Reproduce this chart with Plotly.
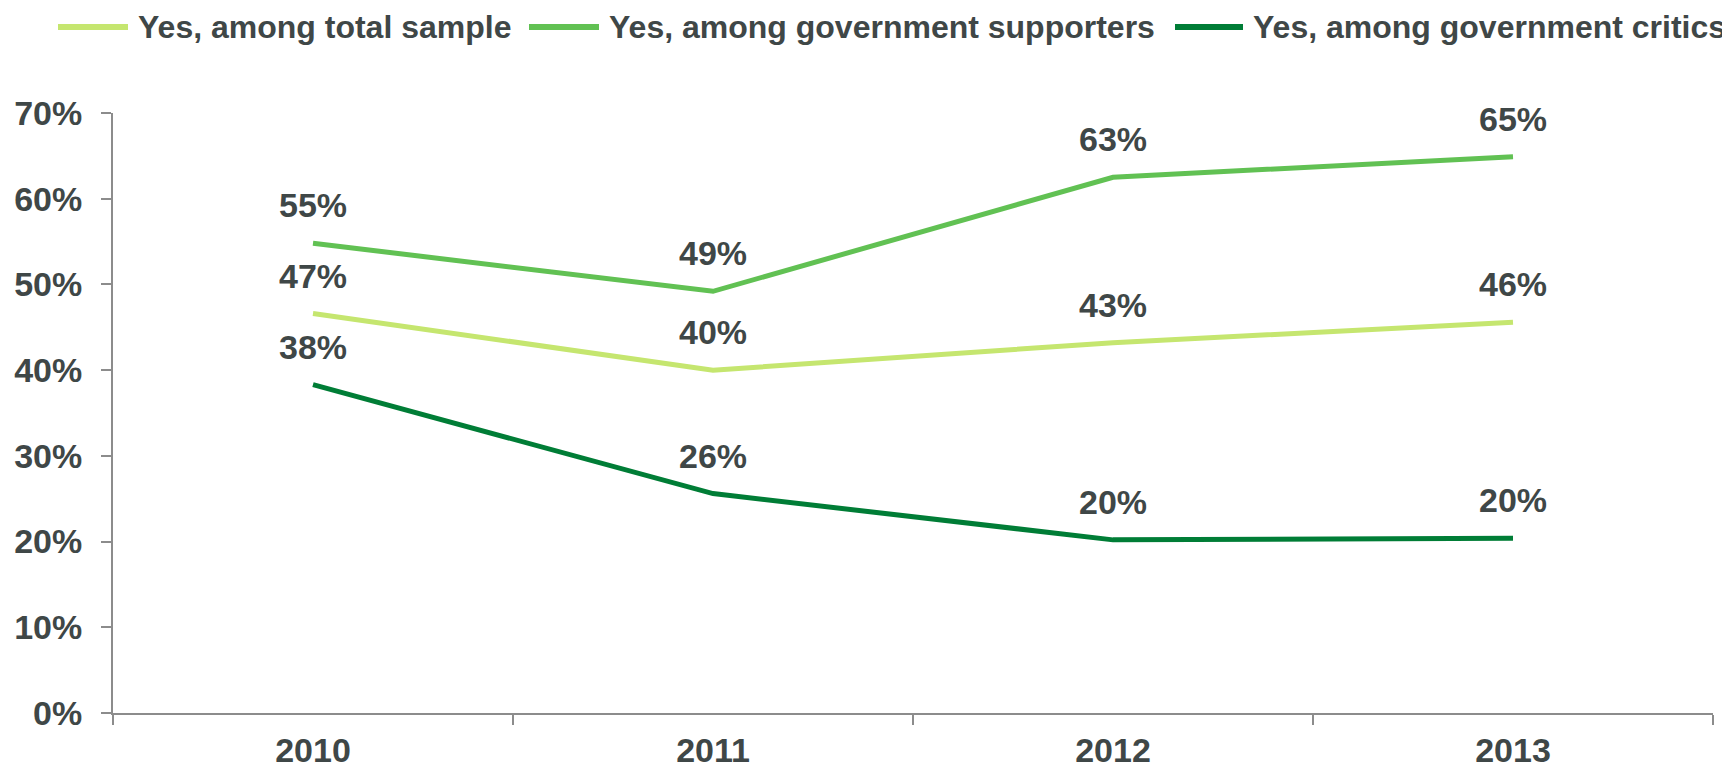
import plotly.graph_objects as go

years = ["2010", "2011", "2012", "2013"]
total_sample = [0.466, 0.400, 0.432, 0.456]
supporters = [0.548, 0.492, 0.625, 0.649]
critics = [0.383, 0.256, 0.202, 0.204]
total_labels = ["47%", "40%", "43%", "46%"]
supporters_labels = ["55%", "49%", "63%", "65%"]
critics_labels = ["38%", "26%", "20%", "20%"]
series_names = ["Yes, among total sample", "Yes, among government supporters",
                "Yes, among government critics"]
colors = ["#c5e66f", "#61c153", "#007d36"]
y_ticks = [0, 0.1, 0.2, 0.3, 0.4, 0.5, 0.6, 0.7]

TEXT = "#3f4747"
AXIS = "#8c8c8c"
FONT = "Liberation Sans, Arial, sans-serif"

# the page body has an 8px default margin; size the figure to fit the window
OFF = 8
W, H = 1730 - OFF, 768 - OFF
ML, MR, MT, MB = 113 - OFF, 17, 113 - OFF, 55
PW = W - ML - MR
PH = H - MT - MB


def px_x(p):  # page pixel -> paper x
    return (p - OFF - ML) / PW


def px_y(p):  # page pixel -> paper y
    return (H - MB - (p - OFF)) / PH


fig = go.Figure()
series = [(total_sample, total_labels), (supporters, supporters_labels), (critics, critics_labels)]
annotations = []
for (vals, labs), name, col in zip(series, series_names, colors):
    fig.add_trace(go.Scatter(x=years, y=vals, mode="lines", name=name,
                             line=dict(color=col, width=5), showlegend=False,
                             hoverinfo="x+y+name"))
    for i, (yv, lab) in enumerate(zip(vals, labs)):
        annotations.append(dict(x=i, y=yv, xref="x", yref="y", text=lab, showarrow=False,
                                yanchor="bottom", xanchor="center", yshift=17,
                                font=dict(family=FONT, size=34, color=TEXT, weight="bold")))

# custom legend (line swatches + labels)
legend_lines = [(58, 128), (529, 599), (1175, 1243)]
legend_text_x = [137, 608, 1252]
shapes = []
for (x0, x1), tx, name, col in zip(legend_lines, legend_text_x, series_names, colors):
    shapes.append(dict(type="line", xref="paper", yref="paper", x0=px_x(x0), x1=px_x(x1),
                       y0=px_y(27), y1=px_y(27), line=dict(color=col, width=6)))
    annotations.append(dict(x=px_x(tx), y=px_y(8), xref="paper", yref="paper", text=name,
                            showarrow=False, xanchor="left", yanchor="top", borderpad=0,
                            font=dict(family=FONT, size=32, color=TEXT, weight="bold")))

fig.update_layout(
    width=W, height=H,
    margin=dict(l=ML, r=MR, t=MT, b=MB, autoexpand=False),
    paper_bgcolor="white", plot_bgcolor="white",
    shapes=shapes, annotations=annotations,
    font=dict(family=FONT, color=TEXT),
)
fig.update_xaxes(type="category", range=[-0.5, 3.5], showline=True, linecolor=AXIS, linewidth=2,
                 ticks="outside", tickson="boundaries", ticklen=10, tickcolor=AXIS, tickwidth=1.5,
                 showgrid=False, zeroline=False, automargin=False, ticklabelstandoff=6,
                 tickfont=dict(family=FONT, size=34, color=TEXT, weight="bold"))
fig.update_yaxes(range=[0, 0.7], tickvals=y_ticks, tickformat=".0%", showline=True, linecolor=AXIS,
                 linewidth=2, ticks="outside", ticklen=10, tickcolor=AXIS, tickwidth=1.5,
                 showgrid=False, zeroline=False, automargin=False, ticklabelstandoff=12,
                 tickfont=dict(family=FONT, size=34, color=TEXT, weight="bold"))

fig.write_html("out.html")
